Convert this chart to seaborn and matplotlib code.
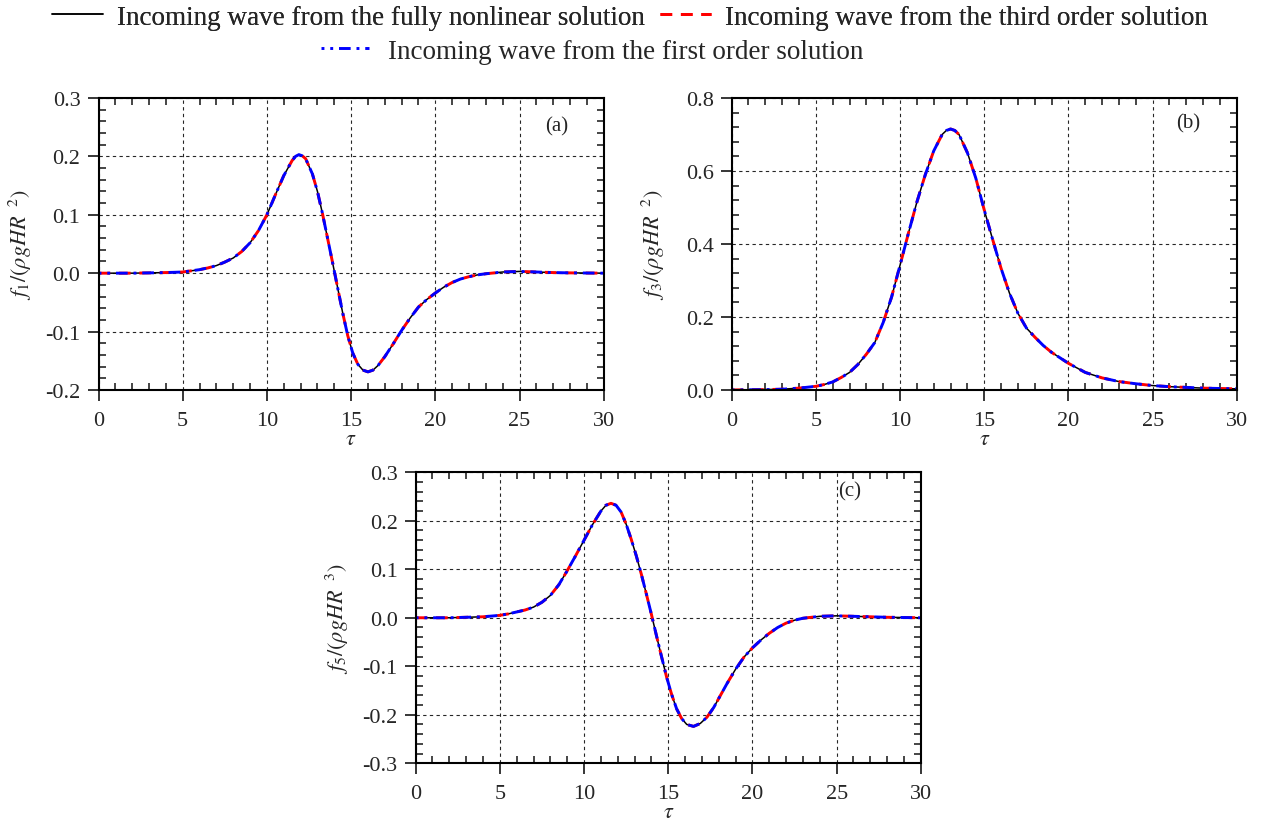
import numpy as np
import pandas as pd
import seaborn as sns
import matplotlib.pyplot as plt
from matplotlib.ticker import MultipleLocator, FormatStrFormatter

# Data (the three solutions overlap, so one curve per panel)
tau_a = [0, 1, 2, 3, 4, 5, 5.5, 6, 6.5, 7, 7.5, 8, 8.5, 9, 9.5, 10, 10.5, 11, 11.5,
         11.7, 11.9, 12.1, 12.3, 12.7, 13.0, 13.3, 13.6, 13.9, 14.2, 14.5, 14.8, 15.1,
         15.4, 15.7, 16.0, 16.3, 16.6, 17.0, 17.5, 18.0, 18.5, 19.0, 19.5, 20.0, 20.5,
         21.0, 21.5, 22.0, 22.5, 23.0, 24.0, 25.0, 26.0, 27.0, 28.0, 30.0]
f1 = [0.0, 0.0, 0.0, 0.0005, 0.001, 0.002, 0.004, 0.006, 0.009, 0.013, 0.019, 0.026,
      0.037, 0.052, 0.073, 0.100, 0.134, 0.167, 0.193, 0.200, 0.203, 0.201, 0.196,
      0.170, 0.140, 0.102, 0.060, 0.018, -0.025, -0.068, -0.107, -0.137, -0.156,
      -0.166, -0.169, -0.166, -0.158, -0.143, -0.121, -0.098, -0.077, -0.058, -0.045,
      -0.034, -0.024, -0.016, -0.010, -0.006, -0.003, -0.001, 0.002, 0.003, 0.002,
      0.001, 0.0005, 0.0]

tau_b = [0, 2, 3, 4, 5, 5.5, 6, 6.5, 7, 7.5, 8, 8.5, 9, 9.5, 10, 10.5, 11, 11.5, 12,
         12.5, 12.75, 13, 13.25, 13.5, 14, 14.5, 15, 15.5, 16, 16.5, 17, 17.5, 18,
         18.5, 19, 19.5, 20, 21, 22, 23, 24, 25, 26, 27, 28, 29, 30]
f3 = [0.0, 0.001, 0.002, 0.005, 0.010, 0.015, 0.022, 0.034, 0.048, 0.070, 0.098, 0.130,
      0.185, 0.255, 0.342, 0.430, 0.515, 0.590, 0.655, 0.700, 0.711, 0.715, 0.711,
      0.700, 0.650, 0.580, 0.493, 0.412, 0.333, 0.265, 0.210, 0.170, 0.145, 0.122,
      0.103, 0.088, 0.073, 0.048, 0.033, 0.023, 0.017, 0.012, 0.009, 0.007, 0.005,
      0.004, 0.003]

tau_c = [0, 2, 3, 4, 5, 5.5, 6, 6.5, 7, 7.5, 8, 8.5, 9, 9.5, 10, 10.5, 11, 11.3, 11.6,
         11.9, 12.2, 12.5, 12.8, 13.1, 13.4, 13.7, 14.0, 14.3, 14.6, 14.9, 15.2, 15.5,
         15.8, 16.1, 16.5, 16.9, 17.3, 17.7, 18.1, 18.5, 19.0, 19.5, 20.0, 20.5, 21.0,
         21.5, 22.0, 22.5, 23.0, 24.0, 25.0, 26.0, 27.0, 28.0, 30.0]
f5 = [0.0, 0.0, 0.001, 0.002, 0.005, 0.008, 0.012, 0.016, 0.022, 0.032, 0.046, 0.068,
      0.097, 0.128, 0.160, 0.192, 0.220, 0.232, 0.236, 0.232, 0.218, 0.193, 0.162,
      0.128, 0.090, 0.049, 0.007, -0.037, -0.080, -0.122, -0.158, -0.188, -0.208,
      -0.220, -0.224, -0.218, -0.205, -0.185, -0.160, -0.135, -0.106, -0.081, -0.062,
      -0.046, -0.032, -0.020, -0.011, -0.005, -0.001, 0.003, 0.004, 0.003, 0.002,
      0.001, 0.0]

series_names = ["Incoming wave from the fully nonlinear solution",
                "Incoming wave from the third order solution",
                "Incoming wave from the first order solution"]

sns.set_style("ticks")
plt.rcParams['font.family'] = ['Liberation Serif', 'DejaVu Serif']
plt.rcParams['mathtext.fontset'] = 'stix'
plt.rcParams['axes.unicode_minus'] = False

fig = plt.figure(figsize=(12.63, 8.29), dpi=100)

panels = [
    ([0.078, 0.5284, 0.400, 0.3522], tau_a, f1, (-0.2, 0.3), 0.1, 0.02,
     r'$f_{1}/(\rho gHR^{\ \ 2})$', "(a)", (0.907, 0.904)),
    ([0.5793, 0.5284, 0.400, 0.3522], tau_b, f3, (0.0, 0.8), 0.2, 0.04,
     r'$f_{3}/(\rho gHR^{\ \ 2})$', "(b)", (0.903, 0.914)),
    ([0.3291, 0.0781, 0.400, 0.351], tau_c, f5, (-0.3, 0.3), 0.1, 0.02,
     r'$f_{5}/(\rho gHR^{\ \ 3})$', "(c)", (0.859, 0.936)),
]

axes = []
for rect, tau, f, ylim, ymaj, ymin, ylab, tag, tagpos in panels:
    ax = fig.add_axes(rect)
    df = pd.DataFrame({"tau": tau, "f": f})
    sns.lineplot(data=df, x="tau", y="f", ax=ax, color="black", lw=1.1,
                 label=series_names[0])
    sns.lineplot(data=df, x="tau", y="f", ax=ax, color="red", lw=2.1,
                 linestyle=(0, (4, 3)), label=series_names[1])
    sns.lineplot(data=df, x="tau", y="f", ax=ax, color="blue", lw=2.1,
                 linestyle=(3, (4, 2, 1, 2)), label=series_names[2])
    ax.get_legend().remove()

    ax.set_xlim(0, 30)
    ax.set_ylim(*ylim)
    ax.xaxis.set_major_locator(MultipleLocator(5))
    ax.xaxis.set_minor_locator(MultipleLocator(1))
    ax.yaxis.set_major_locator(MultipleLocator(ymaj))
    ax.yaxis.set_minor_locator(MultipleLocator(ymin))
    ax.yaxis.set_major_formatter(FormatStrFormatter('%.1f'))

    ax.grid(True, which='major', color='0.15', linestyle=(0, (3, 3)), lw=0.8)
    ax.tick_params(which='major', direction='out', length=8, width=1.3,
                   labelsize=16, top=False, right=False)
    ax.tick_params(axis='x', which='major', pad=7)
    ax.tick_params(axis='y', which='major', pad=5)
    ax.tick_params(which='minor', direction='in', length=5, width=1.2,
                   top=True, right=True, left=True, bottom=True)
    for s in ax.spines.values():
        s.set_linewidth(1.5)
        s.set_color('black')

    ax.set_xlabel(r'$\tau$', fontsize=16, labelpad=0)
    ax.set_ylabel(ylab, fontsize=16)
    ax.yaxis.set_label_coords(-0.128, 0.5)
    ax.text(tagpos[0], tagpos[1], tag, transform=ax.transAxes, fontsize=15,
            ha='center', va='center')
    axes.append(ax)

handles = axes[0].get_lines()[:3]
leg1 = fig.legend(handles[:2], series_names[:2], loc='center',
                  bbox_to_anchor=(0.4985, 0.978), ncol=2, frameon=False,
                  fontsize=19.5, handlelength=1.9, handletextpad=0.5,
                  columnspacing=0.55, borderpad=0)
fig.add_artist(leg1)
fig.legend([handles[2]], [series_names[2]], loc='center',
           bbox_to_anchor=(0.469, 0.937), frameon=False, fontsize=19.5,
           handlelength=1.75, handletextpad=0.7, borderpad=0)

plt.savefig("out.png", dpi=100)
plt.close()
